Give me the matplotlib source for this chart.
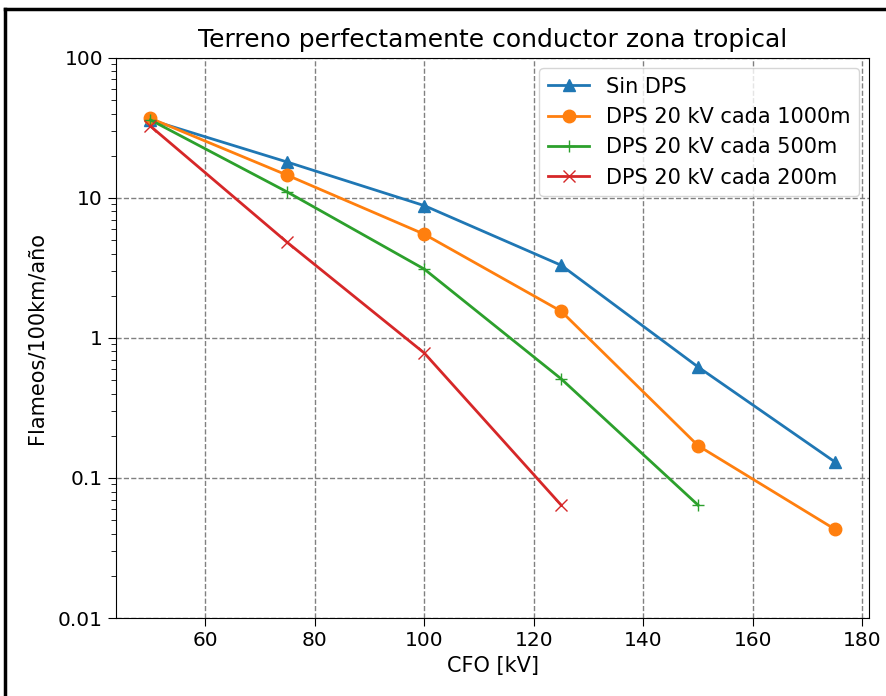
import numpy as np
import matplotlib
matplotlib.use('Agg')
import matplotlib.pyplot as plt
from matplotlib.ticker import FuncFormatter
from matplotlib.lines import Line2D


cfo = [50, 75, 100, 125, 150, 175]

sin_dps = [36, 18, 8.8, 3.3, 0.62, 0.13]
dps_1000 = [37, 14.5, 5.5, 1.55, 0.17, 0.043]
dps_500 = [36, 11, 3.1, 0.51, 0.064]
dps_200 = [32.5, 4.8, 0.78, 0.064]

labels = ['Sin DPS', 'DPS 20 kV cada 1000m', 'DPS 20 kV cada 500m', 'DPS 20 kV cada 200m']


fig = plt.figure(figsize=(8.87, 6.96), dpi=100)
ax = fig.add_axes([0.131, 0.112, 0.849, 0.805])

ax.plot(cfo, sin_dps, marker='^', lw=2, ms=8, label=labels[0])
ax.plot(cfo, dps_1000, marker='o', lw=2, ms=9, label=labels[1])
ax.plot(cfo[:len(dps_500)], dps_500, marker='+', lw=2, ms=9, label=labels[2])
ax.plot(cfo[:len(dps_200)], dps_200, marker='x', lw=2, ms=9, label=labels[3])

ax.set_yscale('log')
ax.set_ylim(0.01, 100)
ax.yaxis.set_major_formatter(FuncFormatter(lambda v, p: '{:g}'.format(v)))
ax.set_xticks([60, 80, 100, 120, 140, 160, 180])

ax.grid(True, which='major', color='gray', linestyle='--', lw=1)
ax.tick_params(labelsize=14.5, length=6)
ax.tick_params(which='minor', length=3.5)

ax.set_title('Terreno perfectamente conductor zona tropical', fontsize=18, pad=8)
ax.set_xlabel('CFO [kV]', fontsize=15)
ax.set_ylabel('Flameos/100km/año', fontsize=15, labelpad=8)
ax.legend(loc='upper right', fontsize=15)

# black frame of the screenshot (left and top)
fig.add_artist(Line2D([0.006, 0.006], [0, 0.987], color='black', lw=2.5, transform=fig.transFigure))
fig.add_artist(Line2D([0.006, 1.0], [0.987, 0.987], color='black', lw=2.5, transform=fig.transFigure))

plt.savefig('out.png', dpi=100)
